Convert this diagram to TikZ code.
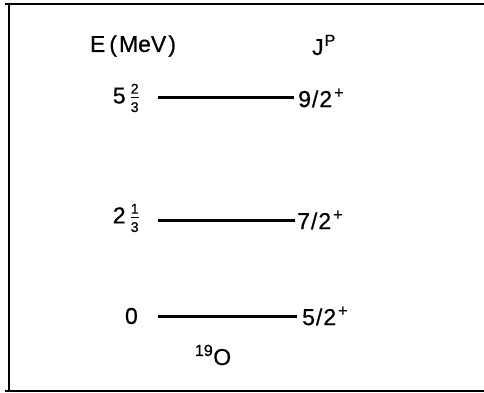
\documentclass[tikz,border=0pt]{standalone}
\usepackage{amsmath}
\usepackage{fontspec}
\setmainfont[FakeBold=0.6]{Liberation Sans}
\newcommand\stk[2]{\ensuremath{\genfrac{}{}{0.8pt}{}{\hbox{\fontsize{14}{14}\selectfont #1}}{\hbox{\fontsize{14}{14}\selectfont #2}}}}
\begin{document}
\begin{tikzpicture}[x=1pt,y=-1pt,
  lbl/.style={inner sep=0pt,font=\fontsize{23}{25}\selectfont},
  level/.style={line width=3pt},
  frame/.style={line width=2.5pt}]
\useasboundingbox (0,0) rectangle (484,393);
% frame
\coordinate (tr) at (484,4);
\coordinate (tl) at (5,4);
\coordinate (lt) at (9,3);
\coordinate (lb) at (9,392);
\coordinate (bl) at (5,391);
\coordinate (br) at (484,391);
\draw[frame] (tr) -- (tl);
\draw[frame] (lt) -- (lb);
\draw[frame] (bl) -- (br);
% headings
\node[lbl] (E) at (133,46) {E\kern4pt(\kern2pt MeV\kern2pt)};
\node[lbl] (JP) at (324,45) {J\textsuperscript{\kern1pt P}};
% levels
\coordinate (l1a) at (158,98);
\coordinate (l1b) at (294,98);
\coordinate (l2a) at (158,220);
\coordinate (l2b) at (295,220);
\coordinate (l3a) at (158,316);
\coordinate (l3b) at (297,316);
\draw[level] (l1a) -- (l1b);
\draw[level] (l2a) -- (l2b);
\draw[level] (l3a) -- (l3b);
% energies
\node[lbl,anchor=east] (e1) at (140,98) {5\kern4pt\stk{2}{3}};
\node[lbl,anchor=east] (e2) at (140,218) {2\kern4pt\stk{1}{3}};
\node[lbl,anchor=east] (e3) at (138,316) {0};
% spins
\node[lbl,anchor=west] (j1) at (298,98) {9\kern1pt/\kern1pt2\textsuperscript{\kern2pt+}};
\node[lbl,anchor=west] (j2) at (297,220) {7\kern1pt/\kern1pt2\textsuperscript{\kern2pt+}};
\node[lbl,anchor=west] (j3) at (302,316) {5\kern1pt/\kern1pt2\textsuperscript{\kern2pt+}};
% nucleus
\node[lbl] (nuc) at (213,355) {\textsuperscript{19}O};
\end{tikzpicture}
\end{document}
